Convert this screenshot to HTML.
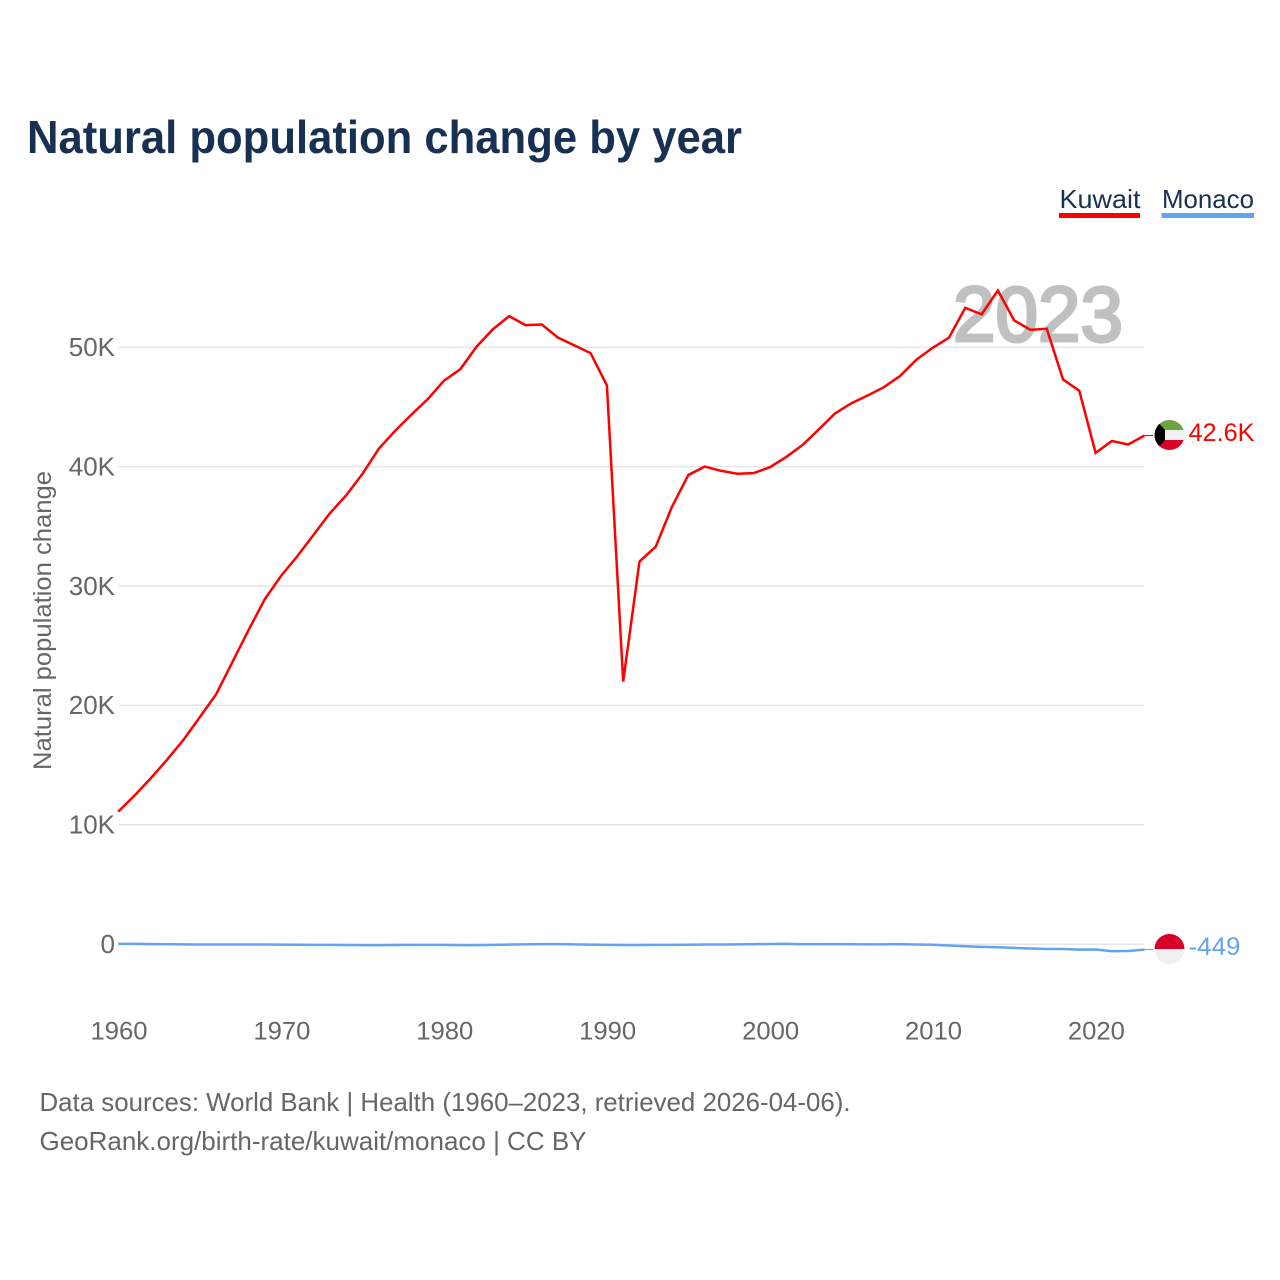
<!DOCTYPE html>
<html lang="en">
<head>
<meta charset="utf-8">
<title>Natural population change by year</title>
<style>
html,body{margin:0;padding:0;background:#fff;width:1280px;height:1280px;overflow:hidden}
svg{display:block;font-family:"Liberation Sans",sans-serif}
</style>
</head>
<body>
<svg id="chart" xmlns="http://www.w3.org/2000/svg" width="1280" height="1280" viewBox="0 0 1280 1280">
  <defs>
    <clipPath id="kuwait-clip"><circle cx="1169.5" cy="435" r="15"/></clipPath>
    <clipPath id="monaco-clip"><circle cx="1169.5" cy="949" r="15"/></clipPath>
  </defs>
  <rect width="1280" height="1280" fill="#fff"/>
  <text x="27" y="153" font-size="46" font-weight="700" fill="#183153" textLength="715" lengthAdjust="spacingAndGlyphs">Natural population change by year</text>

  <g>
    <g>
      <text x="1059.5" y="208" font-size="26" fill="#183153" textLength="81" lengthAdjust="spacingAndGlyphs">Kuwait</text>
      <rect x="1059" y="213" width="81" height="5" fill="#ff0000"/>
    </g>
    <g>
      <text x="1162" y="208" font-size="26" fill="#183153" textLength="92" lengthAdjust="spacingAndGlyphs">Monaco</text>
      <rect x="1161.500" y="213" width="92.500" height="5" fill="#62a5ee"/>
    </g>
  </g>

  <text x="953" y="341" font-size="78" font-weight="400" fill="#c0c0c0" stroke="#c0c0c0" stroke-width="3" textLength="170" lengthAdjust="spacingAndGlyphs">2023</text>

  <g id="grid"></g>
  <g id="y-ticks"></g>
  <g id="x-ticks"></g>
  <text transform="translate(51,770) rotate(-90)" font-size="25" fill="#666" textLength="299" lengthAdjust="spacingAndGlyphs">Natural population change</text>

  <g id="series"></g>

  <g clip-path="url(#kuwait-clip)">
    <rect x="1154" y="420" width="31" height="10" fill="#6da544"/>
    <rect x="1154" y="430" width="31" height="10" fill="#f0f0f0"/>
    <rect x="1154" y="440" width="31" height="10" fill="#d80027"/>
    <polygon points="1154,420 1156,420 1165,430 1165,440 1156,450 1154,450" fill="#000"/>
  </g>
  <g clip-path="url(#monaco-clip)">
    <rect x="1154" y="934" width="31" height="15" fill="#d80027"/>
    <rect x="1154" y="949" width="31" height="15" fill="#f0f0f0"/>
  </g>
  <text id="kuwait-end-label" x="1188.500" y="441" font-size="25" fill="#ff0000" textLength="66" lengthAdjust="spacingAndGlyphs"></text>
  <text id="monaco-end-label" x="1188.500" y="955" font-size="25" fill="#62a5ee" textLength="52" lengthAdjust="spacingAndGlyphs"></text>

  <g>
    <text x="39.500" y="1111" font-size="26" fill="#666" textLength="811" lengthAdjust="spacingAndGlyphs">Data sources: World Bank | Health (1960–2023, retrieved 2026-04-06).</text>
    <text x="39.500" y="1150" font-size="26" fill="#666" textLength="547" lengthAdjust="spacingAndGlyphs">GeoRank.org/birth-rate/kuwait/monaco | CC BY</text>
  </g>
</svg>
<script>
const startYear = 1960;
const kuwaitValues = [11100,12450,13900,15450,17100,19000,20900,23600,26300,28900,30850,32500,34300,36100,37600,39400,41500,43000,44350,45650,47200,48150,50050,51500,52600,51850,51900,50800,50150,49500,46800,22000,32050,33300,36650,39300,40000,39650,39400,39450,39950,40800,41800,43100,44450,45300,45950,46650,47600,48950,49950,50800,53300,52750,54750,52250,51450,51550,47300,46350,41150,42150,41850,42600];
const monacoValues = [30,30,10,0,-10,-20,-25,-30,-30,-30,-40,-50,-60,-60,-70,-80,-80,-70,-60,-60,-60,-80,-80,-60,-30,-10,10,10,-10,-40,-60,-70,-70,-60,-60,-50,-30,-20,-10,0,20,30,0,0,10,0,-10,-10,0,-20,-50,-110,-170,-220,-260,-310,-360,-400,-400,-450,-440,-590,-570,-449];
const yTickValues = [0,10000,20000,30000,40000,50000];
const xTickValues = [1960,1970,1980,1990,2000,2010,2020];

const svgNS = 'http://www.w3.org/2000/svg';
const xScale = year => 118.2 + (year - 1960) * 16.29;
const yScale = value => 944.2 - value * 0.01194;
const formatTick = v => v === 0 ? '0' : (v / 1000) + 'K';
const formatEnd = v => Math.abs(v) >= 1000 ? (v / 1000).toFixed(1) + 'K' : String(v);

const gridGroup = document.getElementById('grid');
const yTickGroup = document.getElementById('y-ticks');
const xTickGroup = document.getElementById('x-ticks');
const seriesGroup = document.getElementById('series');

yTickValues.forEach(v => {
  const line = document.createElementNS(svgNS, 'line');
  
  
  line.setAttribute('x1', 119);
  line.setAttribute('x2', 1144);
  line.setAttribute('y1', yScale(v));
  line.setAttribute('y2', yScale(v));
  line.setAttribute('stroke', '#e6e6e6');
  line.setAttribute('stroke-width', '1.500');
  gridGroup.appendChild(line);

  const label = document.createElementNS(svgNS, 'text');
  
  
  label.setAttribute('x', 115);
  label.setAttribute('y', yScale(v) + 8.8);
  label.setAttribute('text-anchor', 'end');
  label.setAttribute('font-size', '26');
  label.setAttribute('fill', '#666');
  label.textContent = formatTick(v);
  yTickGroup.appendChild(label);
});

xTickValues.forEach(y => {
  const label = document.createElementNS(svgNS, 'text');
  
  
  label.setAttribute('x', xScale(y) + 0.8);
  label.setAttribute('y', 1039.5);
  label.setAttribute('text-anchor', 'middle');
  label.setAttribute('font-size', '25');
  label.setAttribute('fill', '#666');
  label.setAttribute('textLength', '57');
  label.setAttribute('lengthAdjust', 'spacingAndGlyphs');
  label.textContent = y;
  xTickGroup.appendChild(label);
});

function buildPoints(values) {
  return values.map((v, i) => xScale(startYear + i).toFixed(2) + ',' + yScale(v).toFixed(2)).join(' ');
}

const monacoLine = document.createElementNS(svgNS, 'polyline');


monacoLine.setAttribute('points', buildPoints(monacoValues));
monacoLine.setAttribute('fill', 'none');
monacoLine.setAttribute('stroke', '#62a5ee');
monacoLine.setAttribute('stroke-width', '2.500');
seriesGroup.appendChild(monacoLine);

const kuwaitLine = document.createElementNS(svgNS, 'polyline');


kuwaitLine.setAttribute('points', buildPoints(kuwaitValues));
kuwaitLine.setAttribute('fill', 'none');
kuwaitLine.setAttribute('stroke', '#ff0000');
kuwaitLine.setAttribute('stroke-width', '2.500');
kuwaitLine.setAttribute('stroke-linejoin', 'miter');
seriesGroup.appendChild(kuwaitLine);

const kuwaitLast = kuwaitValues[kuwaitValues.length - 1];
const monacoLast = monacoValues[monacoValues.length - 1];

const kuwaitConnector = document.createElementNS(svgNS, 'line');


kuwaitConnector.setAttribute('x1', xScale(2023));
kuwaitConnector.setAttribute('x2', 1153);
kuwaitConnector.setAttribute('y1', yScale(kuwaitLast));
kuwaitConnector.setAttribute('y2', yScale(kuwaitLast));
kuwaitConnector.setAttribute('stroke', '#ff0000');
kuwaitConnector.setAttribute('stroke-width', '1');
seriesGroup.appendChild(kuwaitConnector);

const monacoConnector = document.createElementNS(svgNS, 'line');


monacoConnector.setAttribute('x1', xScale(2023));
monacoConnector.setAttribute('x2', 1153);
monacoConnector.setAttribute('y1', yScale(monacoLast));
monacoConnector.setAttribute('y2', yScale(monacoLast));
monacoConnector.setAttribute('stroke', '#62a5ee');
monacoConnector.setAttribute('stroke-width', '1');
seriesGroup.appendChild(monacoConnector);

document.getElementById('kuwait-end-label').textContent = formatEnd(kuwaitLast);
document.getElementById('monaco-end-label').textContent = formatEnd(monacoLast);
</script>
</body>
</html>
